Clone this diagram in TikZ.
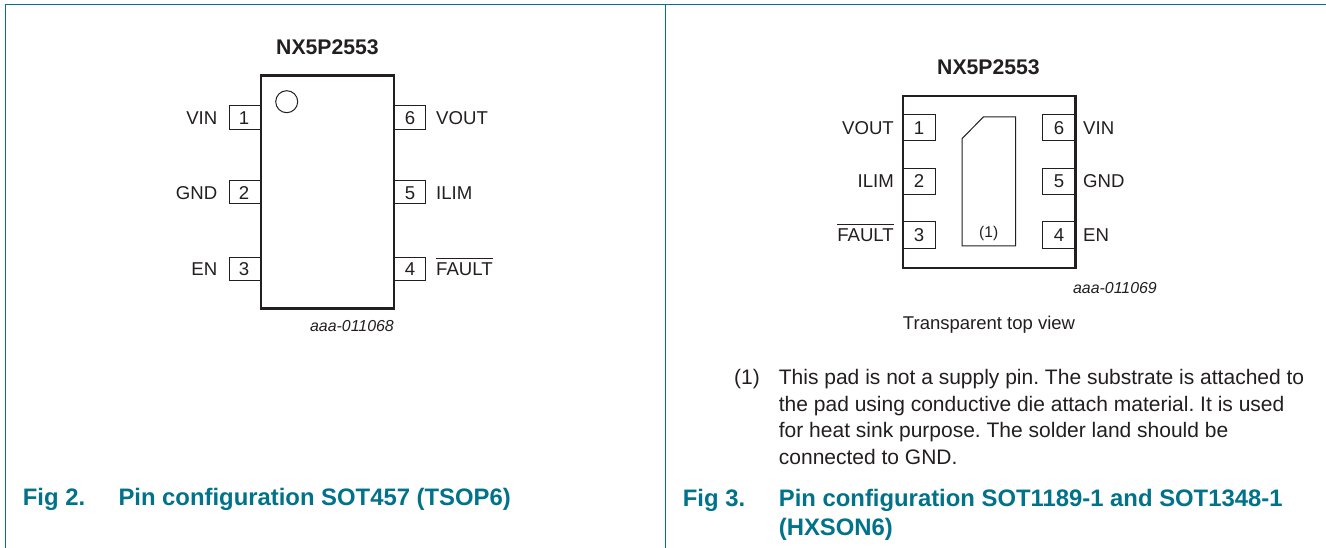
\documentclass[tikz,border=0pt]{standalone}
\usepackage{fontspec}
\setmainfont{Liberation Sans}
\definecolor{teal2}{HTML}{00728A}
\definecolor{ink}{HTML}{231F20}
\frenchspacing
\tikzset{
  x=1pt,y=-1pt,
  framel/.style={draw=teal2,line width=1pt},
  body/.style={draw=ink,line width=2.6pt},
  thin2/.style={draw=ink,line width=1pt},
  lab/.style={inner sep=0pt,text=ink,font=\fontsize{18.6}{22}\selectfont,anchor=base},
  labr/.style={lab,anchor=base east},
  labl/.style={lab,anchor=base west},
  ttl/.style={inner sep=0pt,text=ink,font=\fontsize{21.2}{24}\selectfont\bfseries,anchor=base},
  cod/.style={inner sep=0pt,text=ink,font=\fontsize{15.9}{18}\selectfont\itshape,anchor=base east},
  figcap/.style={inner sep=0pt,text=teal2,font=\fontsize{23.85}{28}\selectfont\bfseries,anchor=base west},
  note/.style={inner sep=0pt,text=ink,font=\fontsize{21}{25}\selectfont,anchor=base west},
}
\newcommand{\ovl}[1]{\setbox0=\hbox{#1}\hbox{\rlap{\raisebox{16.6pt}{\rule{\wd0}{0.9pt}}}\box0}}
\begin{document}
\begin{tikzpicture}
\useasboundingbox (0,0) rectangle (1326,548);
\fill[white] (0,0) rectangle (1326,548);
% frame
\coordinate (fa) at (5.5,548); \coordinate (fb) at (5.5,4.5); \coordinate (fc) at (1326,4.5);
\coordinate (fd) at (665.5,4.5); \coordinate (fe) at (665.5,548);
\draw[framel] (fa) -- (fb) -- (fc);
\draw[framel] (fd) -- (fe);
% left package
\node[ttl] (t1) at (327.5,55) {NX5P2553};
\draw[thin2] (261,106) -- (229,106) -- (229,129.3) -- (261,129.3);
\draw[thin2] (261,180.7) -- (229,180.7) -- (229,204) -- (261,204);
\draw[thin2] (261,257.3) -- (229,257.3) -- (229,280.7) -- (261,280.7);
\draw[thin2] (394,106) -- (425.3,106) -- (425.3,129.3) -- (394,129.3);
\draw[thin2] (394,180.7) -- (425.3,180.7) -- (425.3,204) -- (394,204);
\draw[thin2] (394,257.3) -- (425.3,257.3) -- (425.3,280.7) -- (394,280.7);
\draw[body] (261,75.7) rectangle (394,308.7);
\draw[thin2] (286.7,101.7) circle (11);
\node[lab] (p1) at (244,124.5) {1};
\node[lab] (p2) at (244,199.5) {2};
\node[lab] (p3) at (244,276) {3};
\node[lab] (p6) at (410,124.5) {6};
\node[lab] (p5) at (410,199.5) {5};
\node[lab] (p4) at (410,276) {4};
\node[labr] (l1) at (217.5,124.5) {VIN};
\node[labr] (l2) at (217.5,199.5) {GND};
\node[labr] (l3) at (217.5,276) {EN};
\node[labl] (l6) at (436,124.5) {VOUT};
\node[labl] (l5) at (436,199.5) {ILIM};
\node[labl] (l4) at (436,276) {\ovl{FAULT}};
\node[cod] (c1) at (394,331) {aaa-011068};
% right package
\node[ttl] (t2) at (988.5,75) {NX5P2553};
\draw[thin2] (903,114.7) -- (935.3,114.7) -- (935.3,141) -- (903,141);
\draw[thin2] (903,168.3) -- (935.3,168.3) -- (935.3,195) -- (903,195);
\draw[thin2] (903,222) -- (935.3,222) -- (935.3,248.7) -- (903,248.7);
\draw[thin2] (1075,114.7) -- (1042.7,114.7) -- (1042.7,141) -- (1075,141);
\draw[thin2] (1075,168.3) -- (1042.7,168.3) -- (1042.7,195) -- (1075,195);
\draw[thin2] (1075,222) -- (1042.7,222) -- (1042.7,248.7) -- (1075,248.7);
\draw[body] (903,96) rectangle (1075.3,268);
\draw[thin2] (962,138.7) -- (983.3,117) -- (1015.7,117) -- (1015.7,246) -- (962,246) -- cycle;
\node[inner sep=0pt,text=ink,font=\fontsize{15.5}{18}\selectfont,anchor=base] (pad) at (988.7,238) {(1)};
\node[lab] (q1) at (919,134.5) {1};
\node[lab] (q2) at (919,188) {2};
\node[lab] (q3) at (919,242) {3};
\node[lab] (q6) at (1059,134.5) {6};
\node[lab] (q5) at (1059,188) {5};
\node[lab] (q4) at (1059,242) {4};
\node[labr] (m1) at (894,134.5) {VOUT};
\node[labr] (m2) at (894,188) {ILIM};
\node[labr] (m3) at (894,242) {\ovl{FAULT}};
\node[labl] (m6) at (1083,134.5) {VIN};
\node[labl] (m5) at (1083,188) {GND};
\node[labl] (m4) at (1083,242) {EN};
\node[cod] (c2) at (1157,294) {aaa-011069};
\node[inner sep=0pt,text=ink,font=\fontsize{18.5}{22}\selectfont,anchor=base] (tv) at (989,329) {Transparent top view};
% note
\node[note] (n0) at (734,384) {(1)};
\node[note] (n1) at (778.7,384) {This pad is not a supply pin. The substrate is attached to};
\node[note] (n2) at (778.7,411) {the pad using conductive die attach material. It is used};
\node[note] (n3) at (778.7,437.3) {for heat sink purpose. The solder land should be};
\node[note] (n4) at (778.7,464) {connected to GND.};
% captions
\node[figcap] (f2) at (22.7,505) {Fig 2.};
\node[figcap] (g2) at (118.3,505) {Pin configuration SOT457 (TSOP6)};
\node[figcap] (f3) at (682.7,506) {Fig 3.};
\node[figcap] (g3) at (778.7,506) {Pin configuration SOT1189-1 and SOT1348-1};
\node[figcap] (g4) at (778.7,535) {(HXSON6)};
\end{tikzpicture}
\end{document}
